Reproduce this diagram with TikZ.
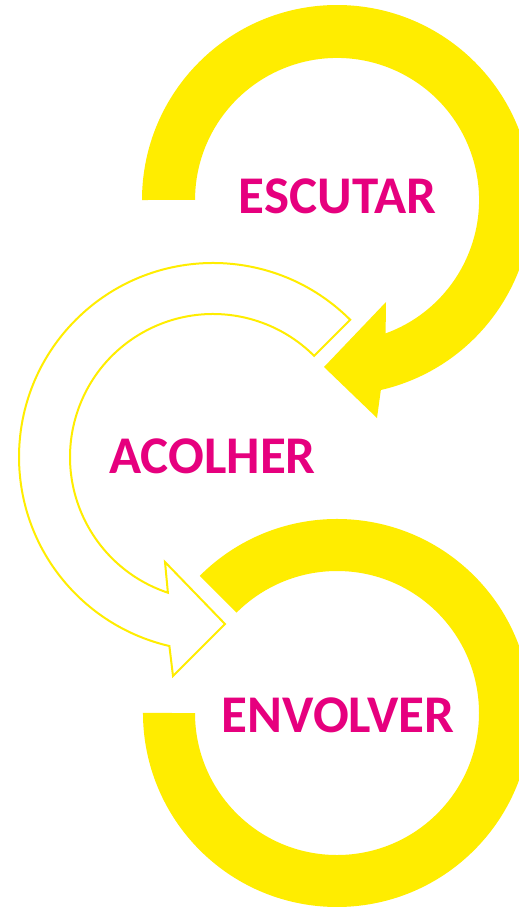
\documentclass[tikz,border=0pt]{standalone}
\usepackage{fontspec}
\setmainfont{Carlito}
\definecolor{ayellow}{HTML}{FFED00}
\definecolor{amagenta}{HTML}{E6007E}
\begin{document}
\begin{tikzpicture}[yscale=-1, x=1pt, y=1pt,
  band/.style={fill=ayellow, draw=none},
  outlinearrow/.style={draw=ayellow, line width=2pt, fill=white, line join=miter},
  word/.style={text=amagenta, font=\fontsize{53}{53}\selectfont\bfseries, inner sep=0pt, anchor=base}]
\useasboundingbox (0,0) rectangle (519,908);
\clip (0,0) rectangle (519,908);
\fill[white] (0,0) rectangle (519,908);
% top circular arrow (ESCUTAR)
\path[band] (142,200) arc (180:437:195) -- (377,418) -- (324,367) -- (386,302)
  -- (385.6,333.4) arc (430:180:142) -- cycle;
% bottom ring (ENVOLVER)
\path[band] (199.8,575.8) arc (225:540:194) -- (195,713) arc (540:225:142) -- cycle;
% middle outlined circular arrow (ACOLHER)
\path[outlinearrow] (350.2,319.8) arc (315:103:194) -- (173,676) -- (225,624) -- (165,562)
  -- (167.9,592.7) arc (108.4:315:143) -- cycle;
\node[word] (escutar) at (337.5,213) {ESCUTAR};
\node[word] (acolher) at (212.5,473) {ACOLHER};
\node[word] (envolver) at (338,732) {ENVOLVER};
\end{tikzpicture}
\end{document}
